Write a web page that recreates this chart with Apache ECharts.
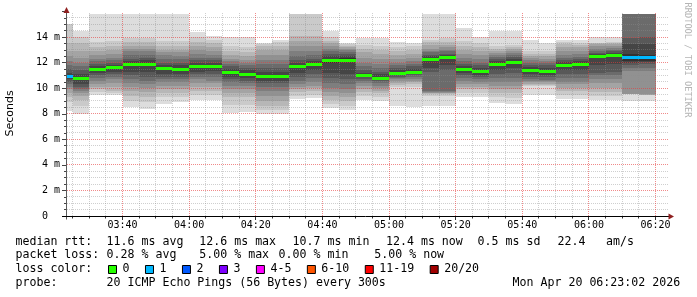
<!DOCTYPE html>
<html><head><meta charset="utf-8">
<script src="https://cdn.jsdelivr.net/npm/echarts@6/dist/echarts.min.js"></script>
<style>html,body{margin:0;padding:0;background:#fff;}#c{width:697px;height:297px;}</style>
</head><body><div id="c"></div>
<script>
// ---- data ----
const windowStart = '03:23:02';
const windowEnd = '06:24:02';
const stepSeconds = 300;
const stepEnds = ['03:25','03:30','03:35','03:40','03:45','03:50','03:55','04:00','04:05','04:10','04:15','04:20',
  '04:25','04:30','04:35','04:40','04:45','04:50','04:55','05:00','05:05','05:10','05:15','05:20',
  '05:25','05:30','05:35','05:40','05:45','05:50','05:55','06:00','06:05','06:10','06:15','06:20'];
const xTickLabels = ['03:40','04:00','04:20','04:40','05:00','05:20','05:40','06:00','06:20'];
const yTickLabels = ['0','2 m','4 m','6 m','8 m','10 m','12 m','14 m'];
// median RTT per step (ms)
const medianRtt = [10.92,10.74,11.47,11.6,11.86,11.88,11.54,11.49,11.67,11.7,11.2,11.1,
  10.95,10.92,11.7,11.83,12.17,12.2,10.99,10.79,11.13,11.26,12.25,12.4,
  11.44,11.31,11.88,12.04,11.39,11.31,11.8,11.88,12.46,12.59,12.43,12.38];
// lost pings per step (of 20)
const lostPings = [1,0,0,0,0,0,0,0,0,0,0,0, 0,0,0,0,0,0,0,0,0,0,0,0, 0,0,0,0,0,0,0,0,0,0,1,1];
// 20 sorted ping times per step (ms), values at the top edge are clipped by the graph
const pingsSorted = [
 [8.2,8.9,9.3,9.6,9.9,10.1,10.3,10.5,10.7,10.85,11.0,11.2,11.5,11.8,12.1,12.5,12.9,13.5,15.0,15.05],
 [8.0,8.6,9.1,9.4,9.6,9.8,9.95,10.1,10.3,10.65,10.83,11.1,11.4,11.7,12.0,12.4,12.9,13.5,14.0,14.48],
 [9.45,9.7,9.9,10.1,10.3,10.6,10.8,11.0,11.2,11.4,11.55,11.7,11.9,12.1,12.3,12.6,12.9,13.2,13.6,15.78],
 [9.45,9.6,9.8,10.1,10.4,10.7,10.9,11.1,11.3,11.5,11.7,11.85,12.0,12.2,12.4,12.7,13.0,13.3,13.7,15.78],
 [8.5,9.0,9.4,9.8,10.1,10.4,10.7,11.0,11.3,11.7,11.95,12.1,12.3,12.6,12.9,13.1,13.3,13.6,13.9,15.78],
 [8.4,8.9,9.3,9.7,10.0,10.3,10.6,10.9,11.3,11.75,12.0,12.2,12.4,12.6,12.9,13.1,13.3,13.6,13.9,15.78],
 [8.8,9.3,9.6,9.9,10.2,10.5,10.7,10.9,11.1,11.4,11.65,11.8,12.0,12.3,12.6,12.8,13.0,13.3,13.7,15.78],
 [8.9,9.3,9.6,9.9,10.2,10.5,10.7,10.9,11.1,11.35,11.6,11.8,12.0,12.3,12.5,12.8,13.0,13.3,13.7,15.78],
 [9.1,9.5,9.8,10.1,10.4,10.7,10.9,11.1,11.3,11.55,11.8,12.0,12.2,12.4,12.7,13.0,13.3,13.6,14.0,14.37],
 [9.1,9.5,9.8,10.1,10.4,10.6,10.9,11.1,11.35,11.6,11.8,12.0,12.2,12.4,12.6,12.9,13.2,13.5,13.8,14.1],
 [8.06,8.7,9.3,9.6,9.9,10.2,10.45,10.7,10.9,11.1,11.3,11.5,11.7,11.9,12.1,12.3,12.6,12.9,13.3,14.0],
 [8.1,8.7,9.3,9.6,9.9,10.2,10.4,10.6,10.8,11.0,11.2,11.4,11.6,11.8,12.0,12.2,12.5,12.8,13.2,14.0],
 [8.0,8.3,8.6,9.0,9.4,9.8,10.1,10.4,10.6,10.85,11.05,11.3,11.6,11.9,12.2,12.6,13.0,13.3,13.45,13.56],
 [7.95,8.3,8.6,9.0,9.4,9.8,10.1,10.4,10.6,10.8,11.05,11.3,11.6,11.9,12.2,12.6,13.0,13.3,13.6,13.8],
 [9.13,9.4,9.7,9.9,10.1,10.3,10.6,10.9,11.2,11.55,11.85,12.0,12.2,12.5,12.9,13.3,13.7,14.1,15.78,15.78],
 [9.26,9.5,9.8,10.0,10.2,10.5,10.8,11.1,11.4,11.7,11.95,12.1,12.3,12.6,12.9,13.3,13.7,14.1,15.78,15.78],
 [8.47,8.8,9.1,9.4,9.7,10.0,10.4,10.8,11.2,12.0,12.3,12.5,12.7,12.9,13.1,13.3,13.5,13.7,14.0,14.48],
 [8.26,8.6,9.0,9.3,9.6,9.9,10.3,10.7,11.1,12.05,12.35,12.5,12.7,12.85,13.0,13.1,13.2,13.3,13.45,13.56],
 [9.1,9.4,9.7,9.95,10.2,10.4,10.6,10.75,10.85,10.93,11.05,11.2,11.4,11.7,12.0,12.4,12.8,13.1,13.4,13.9],
 [9.0,9.3,9.6,9.8,10.0,10.2,10.4,10.55,10.65,10.72,10.86,11.1,11.3,11.6,11.9,12.3,12.7,13.0,13.3,13.9],
 [8.6,10.1,10.25,10.4,10.55,10.7,10.8,10.9,11.0,11.07,11.2,11.4,11.6,11.8,12.0,12.3,12.6,12.9,13.2,13.6],
 [8.5,10.1,10.3,10.45,10.6,10.75,10.9,11.0,11.1,11.2,11.32,11.5,11.7,11.9,12.1,12.4,12.7,13.0,13.3,13.56],
 [8.63,9.4,9.55,9.6,9.65,9.7,9.75,11.3,11.6,12.1,12.4,12.5,12.6,12.8,12.9,13.1,13.4,13.6,13.8,15.78],
 [8.63,9.4,9.55,9.6,9.65,9.7,9.8,11.4,11.8,12.3,12.5,12.6,12.7,12.9,13.0,13.2,13.4,13.6,13.9,15.78],
 [9.3,9.6,9.9,10.1,10.3,10.6,10.8,11.0,11.2,11.35,11.53,11.7,11.9,12.1,12.4,12.7,13.0,13.3,13.7,14.74],
 [9.3,9.6,9.9,10.1,10.3,10.5,10.7,10.9,11.05,11.22,11.4,11.6,11.8,12.0,12.3,12.6,12.9,13.2,13.5,14.0],
 [8.86,9.3,9.6,9.9,10.2,10.5,10.8,11.1,11.4,11.75,12.0,12.15,12.3,12.45,12.6,12.75,12.9,13.1,13.3,14.48],
 [8.73,9.2,9.6,9.9,10.2,10.5,10.8,11.2,11.6,11.95,12.13,12.3,12.45,12.6,12.75,12.9,13.05,13.2,13.4,14.48],
 [9.46,10.17,10.25,10.35,10.45,10.55,10.7,10.9,11.1,11.3,11.48,11.65,11.85,12.0,12.2,12.35,12.5,12.7,12.9,13.75],
 [9.46,10.17,10.25,10.35,10.45,10.55,10.65,10.85,11.05,11.22,11.4,11.6,11.8,11.95,12.1,12.3,12.5,12.7,12.9,13.56],
 [9.13,9.5,9.8,10.0,10.3,10.5,10.8,11.1,11.4,11.7,11.9,12.05,12.2,12.4,12.6,12.9,13.2,13.45,13.6,13.8],
 [9.13,9.5,9.8,10.0,10.3,10.5,10.8,11.1,11.4,11.78,11.98,12.1,12.25,12.45,12.65,12.9,13.2,13.4,13.55,13.75],
 [9.05,9.39,9.7,10.0,10.43,10.7,11.0,11.2,11.8,12.35,12.57,12.65,12.75,12.9,13.1,13.3,13.45,13.5,13.56,14.0],
 [9.05,9.39,9.7,10.0,10.43,10.7,11.0,11.3,11.9,12.5,12.68,12.78,12.9,13.0,13.15,13.3,13.45,13.55,13.65,14.0],
 [9.0,9.52,9.53,9.54,9.55,11.35,11.6,11.8,12.0,12.16,12.7,13.43,13.9,15.78,15.78,15.78,15.78,15.78,15.78,15.78],
 [9.0,9.45,9.47,9.5,9.52,11.35,11.6,11.87,12.05,12.15,12.6,13.43,13.97,15.78,15.78,15.78,15.78,15.78,15.78,15.78]
];
const lossLabels = ['0','1','2','3','4-5','6-10','11-19','20/20'];
const lossUpper  = [0,1,2,3,5,10,19,20];
const rttStats  = ['11.6 ms avg','12.6 ms max','10.7 ms min','12.4 ms now','0.5 ms sd','22.4','am/s'];
const lossStats = ['0.28 % avg','5.00 % max','0.00 % min','5.00 % now'];
const probeText = '20 ICMP Echo Pings (56 Bytes) every 300s';
const stampText = 'Mon Apr 20 06:23:02 2026';

// ---- styles ----
const lossColors = ['#26ff00','#00b8ff','#0059ff','#7e00ff','#ff00ff','#ff5500','#ff0000','#a10000'];
const smokeShades = ['#dddddd','#cacaca','#b7b7b7','#a4a4a4','#919191','#7e7e7e','#6b6b6b','#585858','#454545','#323232'];
const MONO = '"DejaVu Sans Mono", monospace';
const GRID_MINOR = 'rgba(140,140,140,0.42)';
const GRID_MAJOR = 'rgba(230,60,60,0.6)';

const toMin = s => { const p = s.split(':').map(Number); return p[0]*60 + p[1] + (p[2]||0)/60; };
const stepMin = stepSeconds/60;
const xTickMinutes = xTickLabels.map(toMin);
const rows = stepEnds.map((s,i) => [toMin(s), medianRtt[i], lostPings[i]]);
const lossIndex = n => lossUpper.findIndex(u => n <= u);
const Y_MAX = 16, Y_MAJOR = 2, Y_MINOR = 0.5;

function colSpan(params, api, t) {
  const cs = params.coordSys;
  const x0 = Math.max(Math.round(api.coord([t - stepMin, 0])[0]), Math.round(cs.x));
  const x1 = Math.round(api.coord([t, 0])[0]);
  return [x0, x1];
}

function renderSmoke(params, api) {
  const t = api.value(0);
  const p = pingsSorted[params.dataIndex];
  const [x0, x1] = colSpan(params, api, t);
  const children = [];
  for (let k = 0; k < 10; k++) {
    const yTop = Math.round(api.coord([t, p[19-k]])[1]);
    const yBot = Math.round(api.coord([t, p[k]])[1]);
    children.push({type:'rect', shape:{x:x0, y:yTop, width:x1-x0, height:Math.max(yBot-yTop,0)},
      style:{fill:smokeShades[k]}});
  }
  return {type:'group', children};
}
function renderMedian(params, api) {
  const t = api.value(0);
  const y = api.coord([t, api.value(1)])[1];
  const [x0, x1] = colSpan(params, api, t);
  return {type:'rect', shape:{x:x0, y:Math.round(y-1.5), width:x1-x0, height:3},
    style:{fill:lossColors[lossIndex(api.value(2))]}};
}
function renderGrid(params, api) {
  const cs = params.coordSys;
  const top = Math.round(cs.y) + 1, bottom = Math.round(cs.y + cs.height);
  const left = Math.round(cs.x) + 1, right = Math.round(cs.x + cs.width);
  const children = [];
  for (let v = Y_MINOR; v < Y_MAX; v += Y_MINOR) {
    const y = Math.floor(api.coord([rows[0][0], v])[1]) + 0.5;
    const major = Math.abs(v / Y_MAJOR - Math.round(v / Y_MAJOR)) < 1e-9;
    children.push({type:'line', shape:{x1:left, y1:y, x2:right, y2:y},
      style:{stroke: major ? GRID_MAJOR : GRID_MINOR, lineWidth:1, lineDash:[1,1]}});
  }
  rows.forEach(r => {
    const t = r[0];
    const x = Math.floor(api.coord([t, 0])[0]) + 0.5;
    const major = xTickMinutes.indexOf(t) >= 0;
    children.push({type:'line', shape:{x1:x, y1:top, x2:x, y2:bottom},
      style:{stroke: major ? GRID_MAJOR : GRID_MINOR, lineWidth:1, lineDash:[1,1]}});
    children.push({type:'line', shape:{x1:x, y1:bottom, x2:x, y2:bottom + (major ? 4 : 2.5)},
      style:{stroke:'#333', lineWidth:1}});
  });
  return {type:'group', children};
}
function renderAxes(params, api) {
  const cs = params.coordSys;
  const L = Math.round(cs.x) + 0.5, T = cs.y, B = Math.round(cs.y + cs.height) + 0.5, R = cs.x + cs.width;
  const arrow = '#8f1f1f';
  return {type:'group', children:[
    {type:'line', shape:{x1:L, y1:B+3, x2:L, y2:T+1}, style:{stroke:'#5a5a5a', lineWidth:1}},
    {type:'line', shape:{x1:L-4.5, y1:B, x2:R, y2:B}, style:{stroke:'#000', lineWidth:1}},
    {type:'polygon', shape:{points:[[L, T-4.5],[L-3, T+1.5],[L+3, T+1.5]]}, style:{fill:arrow}},
    {type:'polygon', shape:{points:[[R+5, B],[R-0.5, B-3],[R-0.5, B+3]]}, style:{fill:arrow}}
  ]};
}

// ---- legend text graphics ----
const g = [];
const txt = (text, x, y, extra) => g.push(Object.assign({type:'text', x, y,
  style:{text, font:'11.6px ' + MONO, fill:'#000', verticalAlign:'middle', align:'left'}}, extra||{}));
const L1 = 241.7, L2 = 255.2, L3 = 269.4, L4 = 282.8;
txt('median rtt:', 15.5, L1);
[106.6, 199.3, 292.6, 386.0, 477.6, 557.6, 606.0].forEach((x,i) => txt(rttStats[i], x, L1));
txt('packet loss:', 15.5, L2);
[106.6, 199.3, 278.6, 374.3].forEach((x,i) => txt(lossStats[i], x, L2));
txt('loss color:', 15.5, L3);
let bx = 108.5;
lossLabels.forEach((lab, i) => {
  g.push({type:'rect', shape:{x:bx, y:265.5, width:8, height:8}, style:{fill:lossColors[i], stroke:'#000', lineWidth:1}});
  txt(lab, bx + 14, L3);
  bx += 30 + 6.98 * lab.length;
});
txt('probe:', 15.5, L4);
txt(probeText, 106.6, L4);
txt(stampText, 512.6, L4);
g.push({type:'text', x:10.5, y:113.5, rotation:Math.PI/2,
  style:{text:'Seconds', font:'11px "DejaVu Sans", sans-serif', fill:'#000', align:'center', verticalAlign:'middle'}});
g.push({type:'text', x:687.3, y:60, rotation:-Math.PI/2,
  style:{text:'RRDTOOL / TOBI OETIKER', font:'8.7px ' + MONO, fill:'#b4b4b4', align:'center', verticalAlign:'middle'}});

const chart = echarts.init(document.getElementById('c'), null, {renderer:'canvas'});
chart.setOption({
  animation:false,
  backgroundColor:'#fff',
  grid:{left:66, top:11.5, width:603, height:204.5},
  xAxis:{type:'value', min:toMin(windowStart), max:toMin(windowEnd), z:3,
    axisLine:{show:false}, axisTick:{show:false}, splitLine:{show:false},
    axisLabel:{customValues:xTickMinutes, formatter:v => xTickLabels[xTickMinutes.indexOf(v)] || '',
      margin:4, fontFamily:MONO, fontSize:10, color:'#000'}},
  yAxis:{type:'value', min:0, max:Y_MAX, interval:Y_MAJOR, z:3,
    axisLine:{show:false},
    axisTick:{show:true, length:4, lineStyle:{color:'#444'}},
    minorTick:{show:true, splitNumber:4, length:2, lineStyle:{color:'#444'}},
    axisLabel:{margin:6, fontFamily:MONO, fontSize:10, color:'#000', showMaxLabel:false,
      formatter:v => { const i = Math.round(v/2); if (i >= yTickLabels.length) return ''; return i === 0 ? yTickLabels[0] + '  ' : yTickLabels[i]; }},
    splitLine:{show:false}, minorSplitLine:{show:false}},
  series:[
    {type:'custom', name:'smoke', z:2, renderItem:renderSmoke, data:rows, encode:{x:0, y:1}, silent:true},
    {type:'custom', name:'grid', z:3, renderItem:renderGrid, data:[[rows[0][0], 0]], encode:{x:0, y:1}, silent:true},
    {type:'custom', name:'median', z:4, renderItem:renderMedian, data:rows, encode:{x:0, y:1}, silent:true},
    {type:'custom', name:'axes', z:5, renderItem:renderAxes, data:[[toMin(windowStart), 0]], encode:{x:0, y:1}, silent:true}
  ],
  graphic:g
});
</script></body></html>
